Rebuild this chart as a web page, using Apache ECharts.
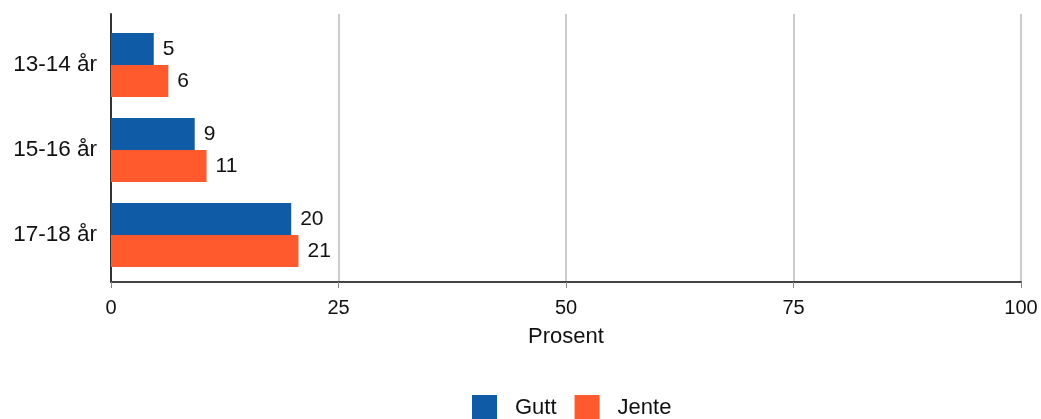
<!DOCTYPE html>
<html><head><meta charset="utf-8">
<script src="https://cdn.jsdelivr.net/npm/echarts@6/dist/echarts.min.js"></script>
<style>html,body{margin:0;padding:0;background:#fff}#c{width:1041px;height:419px}</style>
</head><body><div id="c"></div>
<script>
const categories = ['13-14 år', '15-16 år', '17-18 år'];
const gutt = [4.7, 9.2, 19.8];
const jente = [6.3, 10.5, 20.6];
const seriesNames = ['Gutt', 'Jente'];
const xTicks = [0, 25, 50, 75, 100];

const chart = echarts.init(document.getElementById('c'), null, {renderer: 'canvas'});
const font = 'Liberation Sans, Arial, sans-serif';
const labelCfg = {
  show: true, position: 'right', distance: 9, color: '#111', fontSize: 21, fontFamily: font,
  formatter: p => Math.round(p.value)
};
chart.setOption({
  animation: false,
  grid: [
    {left: 111, right: 20, top: 22.5, bottom: 141.5, containLabel: false},
    {left: 111, right: 20, top: 14, bottom: 137, containLabel: false}
  ],
  legend: {
    data: seriesNames, top: 395, left: 472, itemWidth: 25, itemHeight: 25, itemGap: 18, padding: 0,
    icon: 'rect', textStyle: {fontSize: 22, fontFamily: font, color: '#111', padding: [0, 0, 0, 13]}
  },
  xAxis: [
    {gridIndex: 0, type: 'value', min: 0, max: 100, interval: 25, show: false},
    {
      gridIndex: 1, type: 'value', min: 0, max: 100, interval: 25,
      name: 'Prosent', nameLocation: 'middle', nameGap: 44,
      nameTextStyle: {fontSize: 22, fontFamily: font, color: '#111'},
      axisLine: {show: true, lineStyle: {color: '#444', width: 2}},
      axisTick: {show: true, length: 6, lineStyle: {color: '#888'}},
      axisLabel: {fontSize: 20, fontFamily: font, color: '#111', margin: 16,
        formatter: v => xTicks.includes(v) ? String(v) : ''},
      splitLine: {show: true, lineStyle: {color: '#bbb', width: 1.5}}
    }
  ],
  yAxis: [
    {
      gridIndex: 0, type: 'category', data: categories, inverse: true,
      axisLine: {show: false}, axisTick: {show: false},
      axisLabel: {fontSize: 22.5, fontFamily: font, color: '#111', margin: 14}
    },
    {
      gridIndex: 1, type: 'value', min: 0, max: 1,
      axisLine: {show: true, lineStyle: {color: '#333', width: 2}},
      axisTick: {show: false}, axisLabel: {show: false}, splitLine: {show: false}
    }
  ],
  series: [
    {name: seriesNames[0], type: 'bar', xAxisIndex: 0, yAxisIndex: 0, data: gutt,
     barGap: '0%', barCategoryGap: '24.7%', itemStyle: {color: '#0F5BA6'}, label: labelCfg},
    {name: seriesNames[1], type: 'bar', xAxisIndex: 0, yAxisIndex: 0, data: jente,
     barGap: '0%', barCategoryGap: '24.7%', itemStyle: {color: '#FF5A2E'}, label: labelCfg}
  ]
});
</script></body></html>
